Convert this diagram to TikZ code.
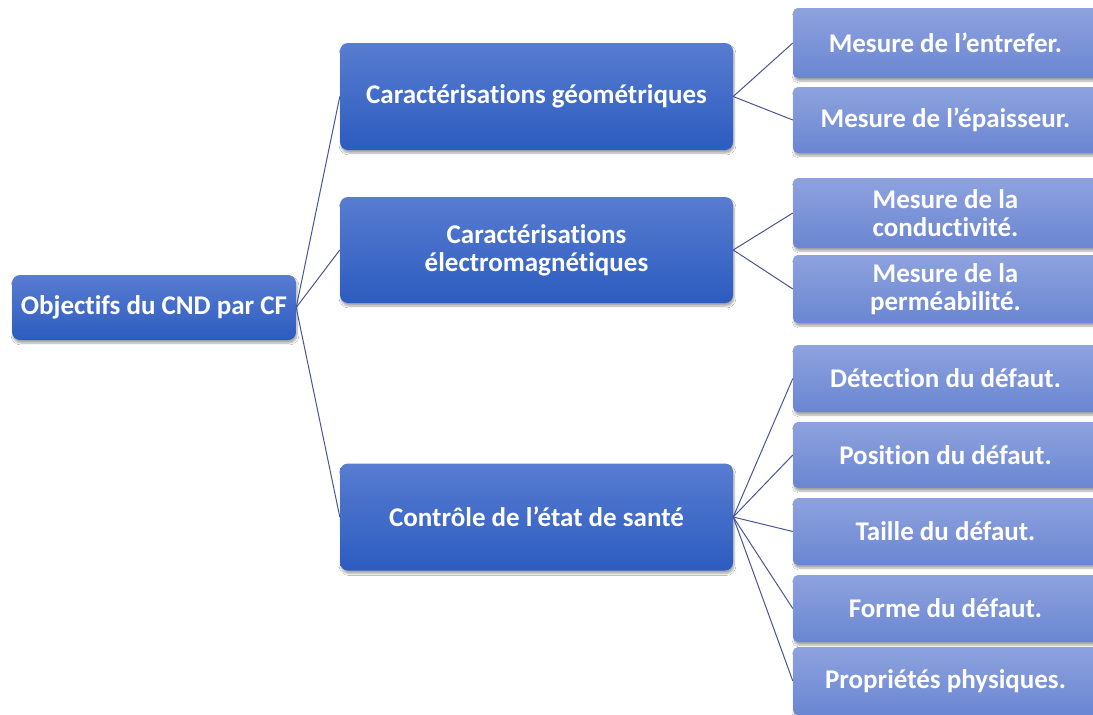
\documentclass[tikz,border=0pt]{standalone}
\usepackage{fontspec}
\setmainfont[Ligatures={NoCommon,NoContextual}]{Carlito}
\usepackage{tikz}
\usetikzlibrary{positioning,shadows.blur}

\definecolor{boxtop}{RGB}{88,124,208}
\definecolor{boxbottom}{RGB}{44,92,192}
\definecolor{leaftop}{RGB}{142,162,222}
\definecolor{leafbottom}{RGB}{106,134,210}
\definecolor{linkblue}{RGB}{72,86,150}

\tikzset{
  mainbox/.style={rounded corners=8pt, top color=boxtop, bottom color=boxbottom,
    text=white, align=center, inner sep=0pt, font=\bfseries\fontsize{27}{28}\selectfont,
    blur shadow={shadow xshift=1pt, shadow yshift=-3pt, shadow blur steps=6, shadow opacity=35}},
  leafbox/.style={rounded corners=5pt, top color=leaftop, bottom color=leafbottom,
    text=white, align=center, inner sep=0pt, minimum width=305pt,
    font=\bfseries\fontsize{27}{28}\selectfont,
    blur shadow={shadow xshift=1pt, shadow yshift=-3pt, shadow blur steps=6, shadow opacity=35}},
  link/.style={draw=linkblue, line width=1pt}
}

\begin{document}
\begin{tikzpicture}[x=1pt,y=-1pt]
\useasboundingbox (0,0) rectangle (1093,715);
\fill[white] (0,0) rectangle (1093,715);

% racine
\node[mainbox, minimum width=284pt, minimum height=65pt] (root) at (154,307.5) {Objectifs du CND par CF};

% niveau 2
\node[mainbox, minimum width=393pt, minimum height=107pt] (geo) at (536.5,96.5) {Caractérisations géométriques};
\node[mainbox, minimum width=393pt, minimum height=106pt] (elec) at (536.5,250) {Caractérisations\\électromagnétiques};
\node[mainbox, minimum width=393pt, minimum height=107pt] (sante) at (536.5,517) {Contrôle de l’état de santé};

% feuilles
\node[leafbox, minimum height=70pt] (entrefer) at (945.5,43) {Mesure de l’entrefer.};
\node[leafbox, minimum height=66pt] (epaisseur) at (945.5,120) {Mesure de l’épaisseur.};
\node[leafbox, minimum height=70pt] (conduct) at (945.5,213) {Mesure de la\\conductivité.};
\node[leafbox, minimum height=68pt] (permea) at (945.5,289) {Mesure de la\\perméabilité.};
\node[leafbox, minimum height=67pt] (detect) at (945.5,378.5) {Détection du défaut.};
\node[leafbox, minimum height=66pt] (position) at (945.5,455) {Position du défaut.};
\node[leafbox, minimum height=67pt] (taille) at (945.5,531.5) {Taille du défaut.};
\node[leafbox, minimum height=67pt] (forme) at (945.5,608.5) {Forme du défaut.};
\node[leafbox, minimum height=68pt] (proprietes) at (945.5,681) {Propriétés physiques.};

% liaisons
\foreach \child in {geo,elec,sante}
  \draw[link] (root.east) -- (\child.west);
\foreach \child in {entrefer,epaisseur}
  \draw[link] (geo.east) -- (\child.west);
\foreach \child in {conduct,permea}
  \draw[link] (elec.east) -- (\child.west);
\foreach \child in {detect,position,taille,forme,proprietes}
  \draw[link] (sante.east) -- (\child.west);
\end{tikzpicture}
\end{document}
